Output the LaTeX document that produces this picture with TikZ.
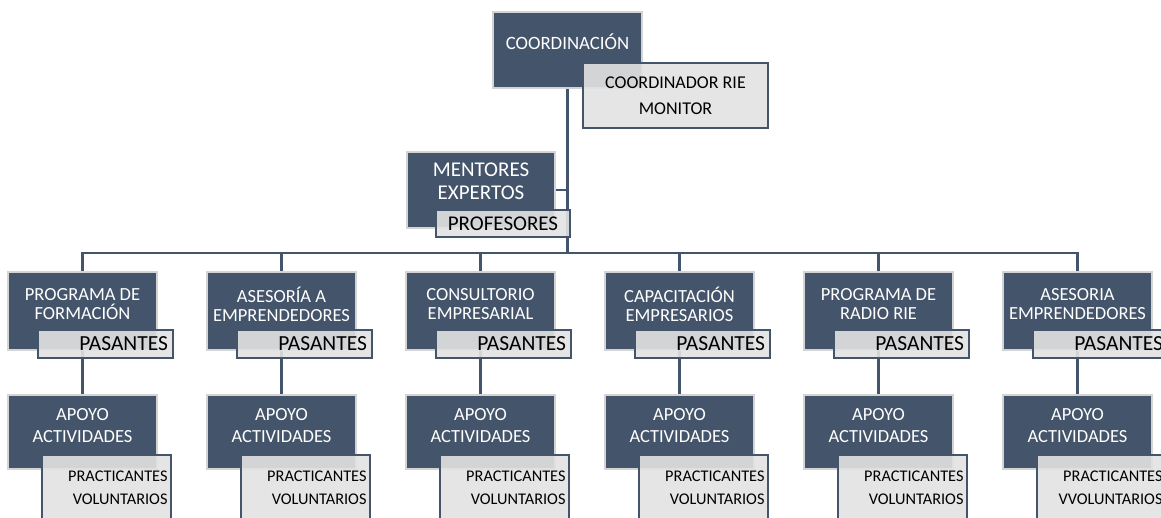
\documentclass[tikz,border=0pt]{standalone}
\usepackage{fontspec}
\setmainfont{Carlito}
\usepackage{xcolor}
\usetikzlibrary{backgrounds}
\definecolor{pizarra}{HTML}{44546A}
\definecolor{gris}{HTML}{E2E2E2}
\definecolor{borde}{HTML}{D4D4D4}

\begin{document}
\begin{tikzpicture}[x=1pt,y=-1pt,
            area/.style = {rectangle, fill=pizarra, draw=borde,
                        line width=1.8pt, text=white, align=center,
                        anchor=north west, outer sep=0pt, inner sep=2pt},
            columna/.style = {area, minimum width=149pt, minimum height=78pt,
                        text depth=14pt, font=\fontsize{18.5}{19}\selectfont},
            apoyo/.style = {area, minimum width=149pt, minimum height=74pt,
                        text depth=13pt, font=\fontsize{18.5}{22}\selectfont},
            cargo/.style = {rectangle, fill=gris, fill opacity=0.9,
                        text opacity=1, draw=pizarra, line width=1.8pt,
                        anchor=north west, outer sep=0pt},
            pasante/.style = {cargo, text width=125pt, inner xsep=5pt,
                        inner ysep=0pt, minimum height=28pt, align=right,
                        font=\fontsize{21.5}{22}\selectfont},
            practica/.style = {cargo, text width=122pt, inner xsep=3.5pt,
                        minimum height=66pt, align=right,
                        font=\fontsize{16.3}{23}\selectfont},
            enlace/.style = {draw=pizarra, line width=2.4pt}]
            \useasboundingbox (0,0) rectangle (1161,518);
            % Coordinacion
            \node[area, minimum width=149pt, minimum height=76pt, text depth=17pt,
                font=\fontsize{18.8}{20}\selectfont] (coord) at (493,12) {COORDINACIÓN};
            \node[cargo, minimum width=185pt, minimum height=65pt, align=center,
                font=\fontsize{18}{26}\selectfont] (coordrie) at (583,63)
                {COORDINADOR RIE\\MONITOR};
            % Mentores
            \node[area, minimum width=148pt, minimum height=76pt, text depth=17pt,
                font=\fontsize{21}{23}\selectfont] (mentor) at (407,152)
                {MENTORES\\EXPERTOS};
            \node[cargo, minimum width=134pt, minimum height=27pt, inner ysep=0pt,
                font=\fontsize{21}{22}\selectfont] (profe) at (436,210) {PROFESORES};
            % Columna 1
            \node[columna] (a1) at (8,272) {PROGRAMA DE\\FORMACIÓN};
            \node[pasante] (p1) at (38,330) {PASANTES};
            \node[apoyo] (b1) at (8,395) {APOYO\\ACTIVIDADES};
            \node[practica] (v1) at (42,455) {PRACTICANTES\\VOLUNTARIOS};
            % Columna 2
            \node[columna] (a2) at (207,272) {ASESORÍA A\\EMPRENDEDORES};
            \node[pasante] (p2) at (237,330) {PASANTES};
            \node[apoyo] (b2) at (207,395) {APOYO\\ACTIVIDADES};
            \node[practica] (v2) at (241,455) {PRACTICANTES\\VOLUNTARIOS};
            % Columna 3
            \node[columna] (a3) at (406,272) {CONSULTORIO\\EMPRESARIAL};
            \node[pasante] (p3) at (436,330) {PASANTES};
            \node[apoyo] (b3) at (406,395) {APOYO\\ACTIVIDADES};
            \node[practica] (v3) at (440,455) {PRACTICANTES\\VOLUNTARIOS};
            % Columna 4
            \node[columna] (a4) at (605,272) {CAPACITACIÓN\\EMPRESARIOS};
            \node[pasante] (p4) at (635,330) {PASANTES};
            \node[apoyo] (b4) at (605,395) {APOYO\\ACTIVIDADES};
            \node[practica] (v4) at (639,455) {PRACTICANTES\\VOLUNTARIOS};
            % Columna 5
            \node[columna] (a5) at (804,272) {PROGRAMA DE\\RADIO RIE};
            \node[pasante] (p5) at (834,330) {PASANTES};
            \node[apoyo] (b5) at (804,395) {APOYO\\ACTIVIDADES};
            \node[practica] (v5) at (838,455) {PRACTICANTES\\VOLUNTARIOS};
            % Columna 6
            \node[columna] (a6) at (1003,272) {ASESORIA\\EMPRENDEDORES};
            \node[pasante] (p6) at (1033,330) {PASANTES};
            \node[apoyo] (b6) at (1003,395) {APOYO\\ACTIVIDADES};
            \node[practica] (v6) at (1037,455) {PRACTICANTES\\VVOLUNTARIOS};
            % Lineas detras de las cajas
            \begin{pgfonlayer}{background}
                \coordinate (barra) at (0,253);
                \draw[enlace] (coord.south) |- (mentor.east);
                \draw[enlace] (coord.south) |- (a1.north |- barra) -- (a1.north);
                \draw[enlace] (coord.south) |- (a2.north |- barra) -- (a2.north);
                \draw[enlace] (coord.south) |- (a3.north |- barra) -- (a3.north);
                \draw[enlace] (coord.south) |- (a4.north |- barra) -- (a4.north);
                \draw[enlace] (coord.south) |- (a5.north |- barra) -- (a5.north);
                \draw[enlace] (coord.south) |- (a6.north |- barra) -- (a6.north);
                \draw[enlace] (a1.south) -- (b1.north);
                \draw[enlace] (a2.south) -- (b2.north);
                \draw[enlace] (a3.south) -- (b3.north);
                \draw[enlace] (a4.south) -- (b4.north);
                \draw[enlace] (a5.south) -- (b5.north);
                \draw[enlace] (a6.south) -- (b6.north);
            \end{pgfonlayer}
        \end{tikzpicture}
\end{document}
